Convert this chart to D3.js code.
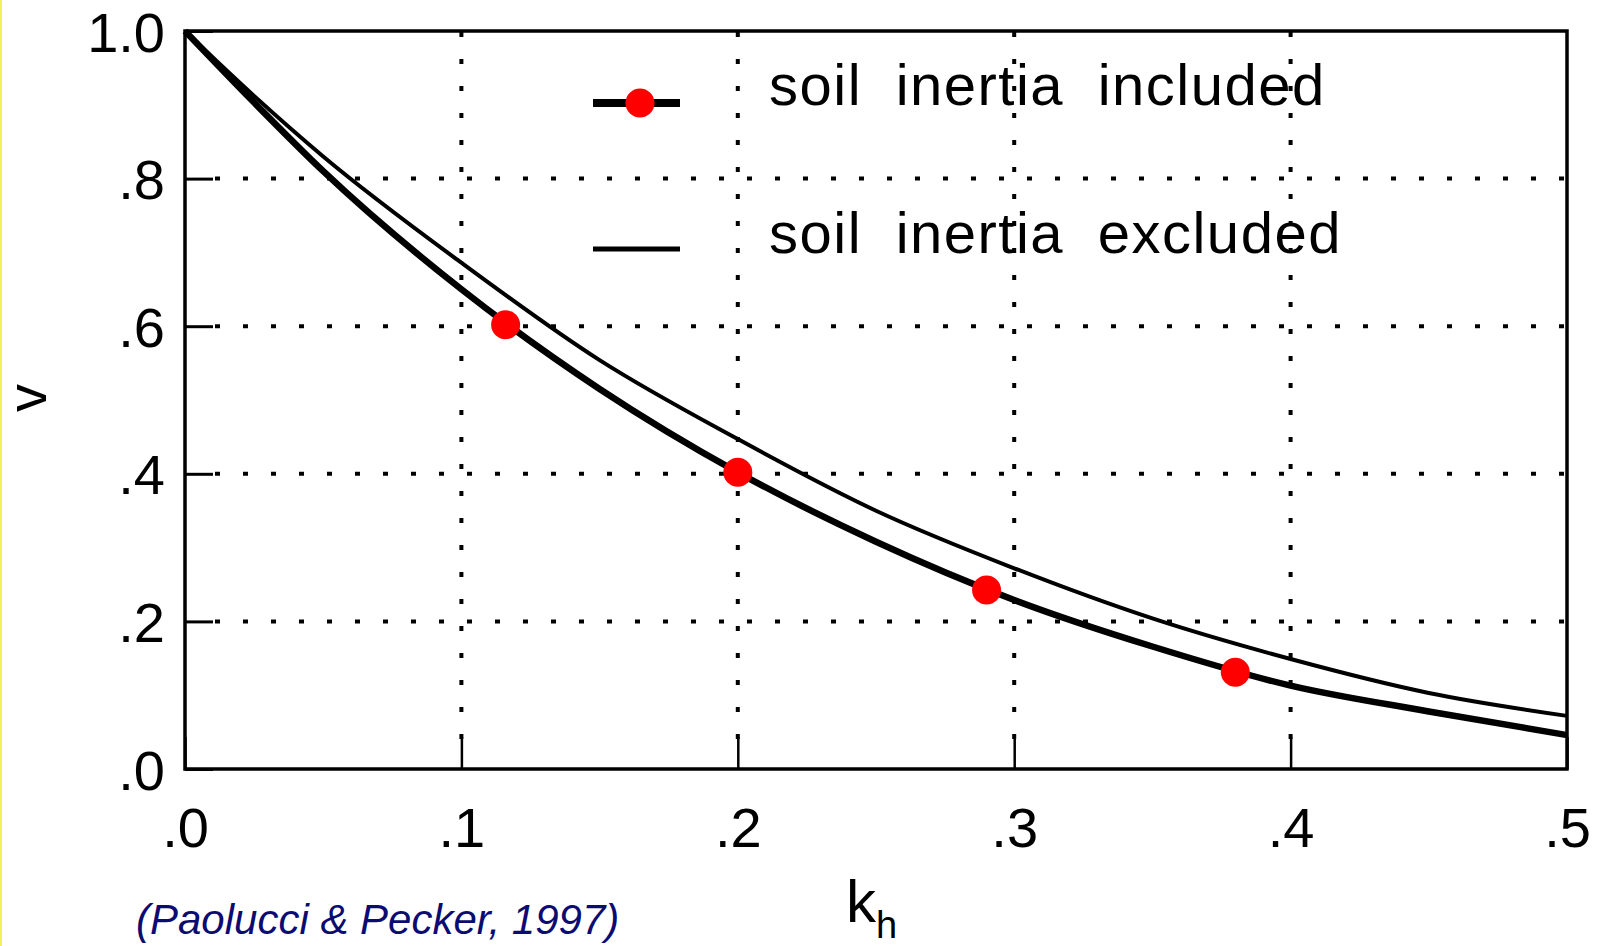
<!DOCTYPE html>
<html>
<head>
<meta charset="utf-8">
<script src="https://cdn.jsdelivr.net/npm/d3@7"></script>
<style>
  html, body { margin: 0; padding: 0; background: #fff; }
  svg { display: block; }
</style>
</head>
<body>
<div id="chart"></div>
<script>
// values
const khValues = [0, 0.025, 0.05, 0.1, 0.15, 0.2, 0.25, 0.3, 0.35, 0.4, 0.45, 0.5];
const vIncluded = [1.0, 0.903, 0.81, 0.65, 0.515, 0.402, 0.308, 0.229, 0.166, 0.113, 0.078, 0.046];
const vExcluded = [1.0, 0.912, 0.83, 0.686, 0.554, 0.447, 0.350, 0.272, 0.204, 0.149, 0.103, 0.072];
const markerKh = [0.116, 0.2, 0.29, 0.38];
const markerV = [0.602, 0.402, 0.2425, 0.131];
const xTicks = [0, 0.1, 0.2, 0.3, 0.4, 0.5];
const yTicks = [0, 0.2, 0.4, 0.6, 0.8, 1.0];
const seriesNames = ["soil inertia included", "soil inertia excluded"];
const citation = "(Paolucci & Pecker, 1997)";

const width = 1604, height = 946;
const margin = { top: 31, right: 37, bottom: 177, left: 185 };
const innerW = width - margin.left - margin.right;
const innerH = height - margin.top - margin.bottom;
const font = "'Liberation Sans', Arial, sans-serif";

const svg = d3.select("#chart")
  .append("svg")
  .attr("width", width)
  .attr("height", height);

// thin yellow strip on the left edge of the slide
svg.append("rect").attr("x", 0).attr("y", 0).attr("width", 2).attr("height", height).attr("fill", "#f2f25a");

const g = svg.append("g").attr("transform", `translate(${margin.left},${margin.top})`);

const x = d3.scaleLinear().domain([0, 0.5]).range([0, innerW]);
const y = d3.scaleLinear().domain([0, 1]).range([innerH, 0]);

const fmt = (d) => (d === 1 ? "1.0" : d3.format(".1f")(d).replace(/^0/, ""));

// dotted grid
g.append("g")
  .selectAll("line")
  .data(xTicks.slice(1, -1))
  .join("line")
  .attr("x1", (d) => x(d)).attr("x2", (d) => x(d))
  .attr("y1", innerH - 30).attr("y2", 0)
  .attr("stroke", "#000").attr("stroke-width", 4)
  .attr("stroke-dasharray", "5 22");

g.append("g")
  .selectAll("line")
  .data(yTicks.slice(1, -1))
  .join("line")
  .attr("x1", 30).attr("x2", innerW)
  .attr("y1", (d) => y(d)).attr("y2", (d) => y(d))
  .attr("stroke", "#000").attr("stroke-width", 4)
  .attr("stroke-dasharray", "5 23");

// axes
const yAxis = d3.axisLeft(y).tickValues(yTicks).tickFormat(fmt).tickSizeInner(-28).tickSizeOuter(0).tickPadding(20);
const xAxis = d3.axisBottom(x).tickValues(xTicks).tickFormat(fmt).tickSizeInner(-32).tickSizeOuter(0).tickPadding(38);

g.append("g")
  .call(yAxis)
  .call((sel) => {
    sel.select(".domain").remove();
    sel.selectAll("line").attr("stroke", "#000").attr("stroke-width", 3);
    sel.selectAll("text").attr("fill", "#000").attr("font-family", font).attr("font-size", 56).attr("dy", "0.36em");
  });

g.append("g")
  .attr("transform", `translate(0,${innerH})`)
  .call(xAxis)
  .call((sel) => {
    sel.select(".domain").remove();
    sel.selectAll("line").attr("stroke", "#000").attr("stroke-width", 2.5);
    sel.selectAll("text").attr("fill", "#000").attr("font-family", font).attr("font-size", 56);
  });

// frame
g.append("rect")
  .attr("x", 0).attr("y", 0)
  .attr("width", innerW).attr("height", innerH)
  .attr("fill", "none").attr("stroke", "#000").attr("stroke-width", 3.5);

// curves
const line = d3.line()
  .x((d) => x(d[0]))
  .y((d) => y(d[1]))
  .curve(d3.curveMonotoneX);

g.append("path")
  .datum(khValues.map((k, i) => [k, vExcluded[i]]))
  .attr("d", line)
  .attr("fill", "none").attr("stroke", "#000").attr("stroke-width", 4);

g.append("path")
  .datum(khValues.map((k, i) => [k, vIncluded[i]]))
  .attr("d", line)
  .attr("fill", "none").attr("stroke", "#000").attr("stroke-width", 6.5);

g.append("g")
  .selectAll("circle")
  .data(markerKh.map((k, i) => [k, markerV[i]]))
  .join("circle")
  .attr("cx", (d) => x(d[0]))
  .attr("cy", (d) => y(d[1]))
  .attr("r", 14.5)
  .attr("fill", "#ff0000");

// legend
const legend = svg.append("g").attr("transform", "translate(593,0)");
const legendRows = [
  { name: seriesNames[0], y: 103, w: 8, dot: true, ty: 105 },
  { name: seriesNames[1], y: 249, w: 5, dot: false, ty: 253 },
];
legendRows.forEach((r) => {
  legend.append("line")
    .attr("x1", 0).attr("x2", 87)
    .attr("y1", r.y).attr("y2", r.y)
    .attr("stroke", "#000").attr("stroke-width", r.w);
  if (r.dot) {
    legend.append("circle").attr("cx", 47).attr("cy", r.y).attr("r", 14.5).attr("fill", "#ff0000");
  }
  legend.append("text")
    .attr("x", 176).attr("y", r.ty)
    .attr("font-family", font).attr("font-size", 58)
    .attr("letter-spacing", 1.5)
    .attr("word-spacing", 16)
    .attr("fill", "#000")
    .text(r.name);
});

// axis titles
svg.append("text")
  .attr("transform", "translate(46,398) rotate(-90)")
  .attr("text-anchor", "middle")
  .attr("font-family", font).attr("font-size", 56)
  .attr("fill", "#000")
  .text("v");

const kh = svg.append("text")
  .attr("x", 846).attr("y", 922)
  .attr("font-family", font).attr("font-size", 60)
  .attr("fill", "#000");
kh.append("tspan").text("k");
kh.append("tspan").attr("font-size", 38).attr("dy", 16).text("h");

svg.append("text")
  .attr("x", 136).attr("y", 934)
  .attr("font-family", font).attr("font-size", 42)
  .attr("font-style", "italic")
  .attr("fill", "#0b0b72")
  .text(citation);
</script>
</body>
</html>
